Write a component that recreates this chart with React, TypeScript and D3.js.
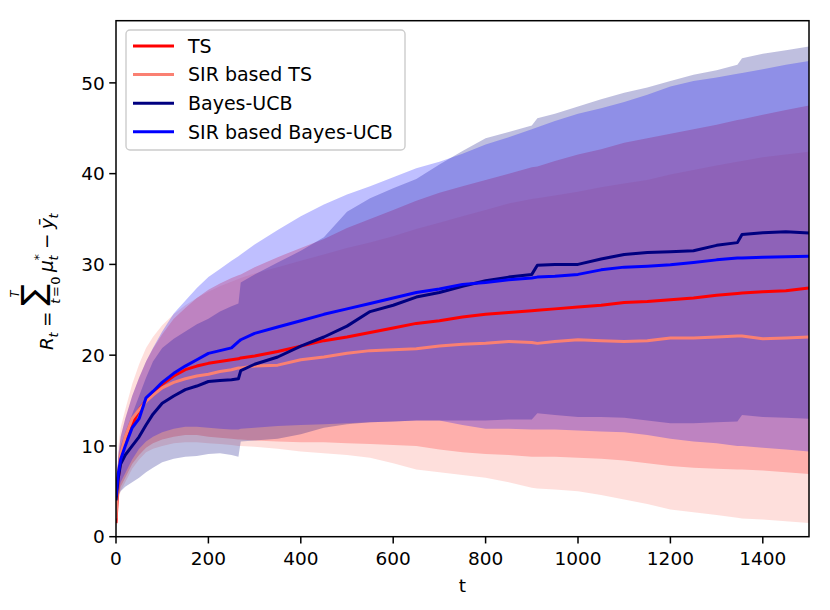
import * as d3 from "d3";

// time grid shared by every run (t)
const tGrid = [0, 5, 10, 20, 35, 50, 65, 80, 100, 125, 150, 175, 200, 225, 250, 265, 270, 300, 350, 400, 450, 500, 550, 600, 650, 700, 750, 800, 850, 900, 912, 950, 1000, 1050, 1100, 1150, 1200, 1250, 1300, 1345, 1355, 1400, 1450, 1500];

// TS
const tsMean = [1.5, 6.5, 8.5, 10.5, 12.3, 14.0, 15.0, 15.8, 16.8, 17.7, 18.4, 18.8, 19.1, 19.3, 19.5, 19.6, 19.7, 19.9, 20.4, 21.0, 21.6, 22.0, 22.5, 23.0, 23.5, 23.8, 24.2, 24.5, 24.7, 24.9, 24.95, 25.1, 25.3, 25.5, 25.8, 25.9, 26.1, 26.3, 26.6, 26.8, 26.85, 27.0, 27.1, 27.4];
const tsLow = [1.0, 4.0, 5.5, 6.5, 8.0, 9.0, 9.8, 10.3, 10.7, 11.0, 11.2, 11.2, 11.0, 10.9, 10.8, 10.7, 10.7, 10.6, 10.5, 10.4, 10.4, 10.3, 10.2, 10.1, 10.0, 9.6, 9.3, 9.1, 9.0, 8.8, 8.8, 8.8, 8.7, 8.6, 8.4, 8.1, 7.8, 7.6, 7.5, 7.4, 7.4, 7.3, 7.1, 6.9];
const tsHigh = [2.0, 9.0, 11.0, 13.0, 15.5, 17.5, 19.3, 20.7, 22.3, 24.0, 25.2, 26.3, 27.2, 27.9, 28.5, 28.8, 28.9, 29.7, 30.8, 31.8, 32.8, 34.0, 35.0, 36.0, 37.0, 37.9, 38.6, 39.3, 40.0, 40.7, 40.8, 41.4, 42.1, 42.7, 43.4, 43.9, 44.4, 44.9, 45.4, 45.9, 46.0, 46.5, 47.0, 47.5];

// SIR based TS
const sirTsMean = [2.0, 7.0, 9.0, 11.0, 13.0, 14.0, 14.9, 15.6, 16.4, 17.0, 17.4, 17.7, 17.9, 18.2, 18.4, 18.6, 18.6, 18.8, 18.9, 19.5, 19.8, 20.2, 20.5, 20.6, 20.7, 21.0, 21.2, 21.3, 21.5, 21.4, 21.3, 21.5, 21.7, 21.6, 21.5, 21.6, 21.9, 21.9, 22.0, 22.1, 22.1, 21.8, 21.9, 22.0];
const sirTsLow = [1.0, 4.0, 5.0, 6.0, 7.5, 8.5, 9.3, 9.7, 10.0, 10.3, 10.4, 10.4, 10.3, 10.2, 10.1, 10.0, 10.0, 9.9, 9.7, 9.4, 9.2, 9.0, 8.7, 8.1, 7.4, 7.1, 6.8, 6.5, 6.0, 5.4, 5.3, 5.2, 5.0, 4.6, 4.1, 3.6, 3.0, 2.7, 2.4, 2.1, 2.0, 1.9, 1.7, 1.5];
const sirTsHigh = [2.5, 10.0, 12.0, 14.0, 16.8, 19.0, 20.8, 22.0, 23.3, 24.5, 25.5, 26.3, 27.0, 27.6, 28.1, 28.4, 28.5, 29.0, 29.7, 30.4, 31.1, 31.8, 32.4, 33.1, 33.9, 34.6, 35.3, 36.0, 36.7, 37.2, 37.3, 37.6, 38.0, 38.5, 38.9, 39.3, 39.9, 40.4, 40.9, 41.3, 41.4, 41.8, 42.1, 42.4];

// Bayes-UCB
const ucbMean = [4.0, 6.5, 8.0, 9.0, 10.0, 11.0, 12.3, 13.5, 14.7, 15.5, 16.2, 16.6, 17.1, 17.2, 17.3, 17.4, 18.3, 19.0, 19.8, 21.0, 22.0, 23.2, 24.8, 25.5, 26.4, 26.9, 27.6, 28.2, 28.6, 28.9, 29.9, 30.0, 30.0, 30.6, 31.1, 31.3, 31.4, 31.5, 32.1, 32.4, 33.3, 33.5, 33.6, 33.45];
const ucbLow = [2.5, 4.5, 5.0, 5.5, 6.0, 6.5, 7.1, 7.6, 8.2, 8.6, 8.8, 8.9, 9.1, 9.2, 9.0, 8.8, 10.5, 10.6, 10.8, 11.3, 12.0, 12.4, 12.6, 12.7, 12.8, 12.8, 12.8, 12.8, 12.9, 12.9, 13.6, 13.4, 13.2, 13.2, 13.1, 12.8, 12.5, 12.5, 12.6, 12.7, 13.4, 13.2, 13.1, 13.0];
const ucbHigh = [5.0, 8.5, 10.0, 11.5, 13.5, 15.5, 17.5, 19.3, 20.8, 21.8, 22.6, 23.4, 24.0, 24.8, 25.4, 25.7, 28.0, 28.9, 30.2, 31.5, 33.0, 35.8, 37.3, 38.4, 39.4, 41.0, 42.5, 43.9, 44.6, 45.3, 46.1, 46.6, 47.4, 48.2, 48.9, 49.5, 50.2, 50.9, 51.4, 52.0, 52.7, 53.2, 53.6, 54.0];

// SIR based Bayes-UCB
const sirUcbMean = [4.5, 7.0, 8.5, 10.0, 12.0, 13.0, 15.3, 16.0, 17.0, 18.0, 18.8, 19.5, 20.2, 20.5, 20.8, 21.5, 21.7, 22.4, 23.1, 23.8, 24.5, 25.1, 25.7, 26.3, 26.9, 27.3, 27.8, 28.0, 28.3, 28.5, 28.6, 28.7, 28.9, 29.4, 29.7, 29.8, 29.95, 30.2, 30.5, 30.7, 30.7, 30.8, 30.85, 30.9];
const sirUcbLow = [3.0, 5.0, 6.0, 7.0, 8.5, 9.7, 10.5, 11.0, 11.5, 11.9, 12.1, 12.1, 12.0, 11.9, 11.8, 11.8, 11.9, 12.0, 12.2, 12.3, 12.4, 12.5, 12.6, 12.7, 12.8, 12.8, 12.3, 11.9, 11.9, 11.8, 11.8, 11.8, 11.7, 11.6, 11.5, 11.2, 10.8, 10.5, 10.3, 10.0, 10.0, 9.8, 9.6, 9.4];
const sirUcbHigh = [5.0, 9.0, 11.0, 13.0, 15.5, 17.5, 19.3, 20.8, 22.6, 24.6, 26.0, 27.4, 28.6, 29.5, 30.4, 30.9, 31.1, 32.2, 33.8, 35.3, 36.6, 37.7, 38.6, 39.6, 40.6, 41.3, 42.2, 43.2, 44.0, 44.9, 45.1, 45.8, 46.6, 47.2, 47.9, 48.7, 49.6, 50.2, 50.6, 51.0, 51.1, 51.5, 52.0, 52.4];

const seriesNames = ["TS", "SIR based TS", "Bayes-UCB", "SIR based Bayes-UCB"];
const seriesColors = ["#ff0000", "#fa8072", "#000080", "#0000ff"];

const xTicks = [0, 200, 400, 600, 800, 1000, 1200, 1400];
const yTicks = [0, 10, 20, 30, 40, 50];

const series = [
  { mean: tsMean, low: tsLow, high: tsHigh },
  { mean: sirTsMean, low: sirTsLow, high: sirTsHigh },
  { mean: ucbMean, low: ucbLow, high: ucbHigh },
  { mean: sirUcbMean, low: sirUcbLow, high: sirUcbHigh },
].map((s, i) => ({ ...s, name: seriesNames[i], color: seriesColors[i] }));

const FONT = "DejaVu Sans";

export default function App() {
  const width = 830;
  const height = 610;
  const plot = { left: 116, right: 809, top: 20.7, bottom: 536.7 };
  const x = d3.scaleLinear([0, 1500], [plot.left, plot.right]);
  const y = d3.scaleLinear([0, 56.85], [plot.bottom, plot.top]);

  const band = (low: number[], high: number[]) =>
    d3
      .area<number>()
      .x((t) => x(t))
      .y0((_, i) => y(low[i]))
      .y1((_, i) => y(high[i]))(tGrid) ?? undefined;

  const line = (vals: number[]) =>
    d3
      .line<number>()
      .x((t) => x(t))
      .y((_, i) => y(vals[i]))(tGrid) ?? undefined;

  const tickLen = 6.75;
  const legendRow = (i: number) => 46 + i * 28.6;

  return (
    <svg
      width={width}
      height={height}
      viewBox={`0 0 ${width} ${height}`}
      style={{ position: "absolute", left: 0, top: 0, background: "#fff" }}
      fontFamily={FONT}
    >
      <defs>
        <clipPath id="plot-area">
          <rect x={plot.left} y={plot.top} width={plot.right - plot.left} height={plot.bottom - plot.top} />
        </clipPath>
      </defs>

      <g clipPath="url(#plot-area)">
        {series.map((s) => (
          <path key={`band-${s.name}`} d={band(s.low, s.high)} fill={s.color} fillOpacity={0.25} stroke="none" />
        ))}
        {series.map((s) => (
          <path
            key={`line-${s.name}`}
            d={line(s.mean)}
            fill="none"
            stroke={s.color}
            strokeWidth={3}
            strokeLinejoin="round"
          />
        ))}
      </g>

      {/* spines */}
      <rect
        x={plot.left}
        y={plot.top}
        width={plot.right - plot.left}
        height={plot.bottom - plot.top}
        fill="none"
        stroke="#000"
        strokeWidth={1.5}
      />

      {/* x axis */}
      {xTicks.map((t) => (
        <g key={`xt-${t}`}>
          <line x1={x(t)} x2={x(t)} y1={plot.bottom} y2={plot.bottom + tickLen} stroke="#000" strokeWidth={1.5} />
          <text x={x(t)} y={565} fontSize={18.5} textAnchor="middle">
            {t}
          </text>
        </g>
      ))}
      <text x={(plot.left + plot.right) / 2} y={592} fontSize={18.5} textAnchor="middle">
        t
      </text>

      {/* y axis */}
      {yTicks.map((v) => (
        <g key={`yt-${v}`}>
          <line x1={plot.left - tickLen} x2={plot.left} y1={y(v)} y2={y(v)} stroke="#000" strokeWidth={1.5} />
          <text x={plot.left - tickLen - 4.5} y={y(v)} dy="0.36em" fontSize={18.5} textAnchor="end">
            {v}
          </text>
        </g>
      ))}

      {/* y label: R_t = sum_{t=0}^{T} mu_t^* - ybar_t */}
      <g transform="translate(53,350) rotate(-90)">
        <text x={0} y={0} fontSize={18.5} fontStyle="italic">R</text>
        <text x={12.5} y={4.5} fontSize={13} fontStyle="italic">t</text>
        <text x={23} y={0} fontSize={18.5}>=</text>
        <text x={55} y={-9} fontSize={32} textAnchor="middle">∑</text>
        <text x={56} y={-34} fontSize={11.5} fontStyle="italic" textAnchor="middle">T</text>
        <text x={60} y={7} fontSize={13} textAnchor="middle">
          <tspan fontStyle="italic">t</tspan>
          <tspan dx={1.5}>=</tspan>
          <tspan dx={1.5}>0</tspan>
        </text>
        <text x={78} y={0} fontSize={18.5} fontStyle="italic">μ</text>
        <text x={89.5} y={-10} fontSize={13}>*</text>
        <text x={89.5} y={4.5} fontSize={13} fontStyle="italic">t</text>
        <text x={101} y={0} fontSize={18.5}>−</text>
        <text x={121} y={0} fontSize={18.5} fontStyle="italic">ȳ</text>
        <text x={131.5} y={4.5} fontSize={13} fontStyle="italic">t</text>
      </g>

      {/* legend */}
      <rect x={126} y={30} width={279} height={120} rx={4} fill="#fff" fillOpacity={0.8} stroke="#cccccc" strokeWidth={1.4} />
      {series.map((s, i) => (
        <g key={`lg-${s.name}`}>
          <line x1={133} x2={174} y1={legendRow(i)} y2={legendRow(i)} stroke={s.color} strokeWidth={3} />
          <text x={188} y={legendRow(i)} dy="0.36em" fontSize={19}>
            {s.name}
          </text>
        </g>
      ))}
    </svg>
  );
}
